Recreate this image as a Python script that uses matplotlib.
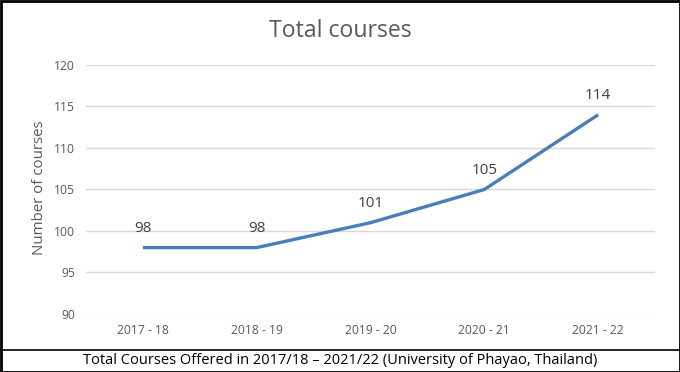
import matplotlib.pyplot as plt
from matplotlib.lines import Line2D

# data
years = ['2017 - 18', '2018 - 19', '2019 - 20', '2020 - 21', '2021 - 22']
courses = [98, 98, 101, 105, 114]
y_ticks = [90, 95, 100, 105, 110, 115, 120]

plt.rcParams['font.family'] = ['Open Sans', 'DejaVu Sans']

fig = plt.figure(figsize=(6.8, 3.72), dpi=100)
ax = fig.add_axes([86 / 680, 1 - 314 / 372, (655 - 86) / 680, (314 - 65) / 372])

x = list(range(len(years)))
ax.plot(x, courses, color='#4a7ebb', linewidth=2.4, solid_capstyle='butt', zorder=3)

# data labels above points
for xi, v in zip(x, courses):
    ax.annotate(str(v), (xi, v), xytext=(0, 14), textcoords='offset points',
                ha='center', va='center', fontsize=11, color='#404040')

ax.set_xlim(-0.5, len(years) - 0.5)
ax.set_ylim(90, 120)
ax.set_yticks(y_ticks)
ax.set_xticks(x)
ax.set_xticklabels(years)
ax.tick_params(axis='both', length=0, labelsize=8.7, colors='#595959')
ax.tick_params(axis='x', pad=7)
ax.tick_params(axis='y', pad=8)
ax.grid(axis='y', color='#d9d9d9', linewidth=1)
ax.set_axisbelow(True)
for s in ax.spines.values():
    s.set_visible(False)

fig.text(40 / 680, 1 - 188 / 372, 'Number of courses', rotation=90, ha='center', va='center',
         fontsize=10.8, color='#595959')

fig.text(0.5, 1 - 31 / 372, 'Total courses', ha='center', va='center', fontsize=16.6, color='#595959')

# caption box
fig.text(0.5, 1 - 360 / 372, 'Total Courses Offered in 2017/18 \u2013 2021/22 (University of Phayao, Thailand)',
         ha='center', va='center', fontsize=10.5, color='black')
fig.add_artist(Line2D([0, 1], [1 - 349.5 / 372, 1 - 349.5 / 372], transform=fig.transFigure,
                      color='black', linewidth=1.2))
fig.add_artist(plt.Rectangle((0.5 / 680, 0.5 / 372), 679 / 680, 371 / 372, transform=fig.transFigure,
                             fill=False, edgecolor='black', linewidth=2))

fig.savefig('out.png', dpi=100)
